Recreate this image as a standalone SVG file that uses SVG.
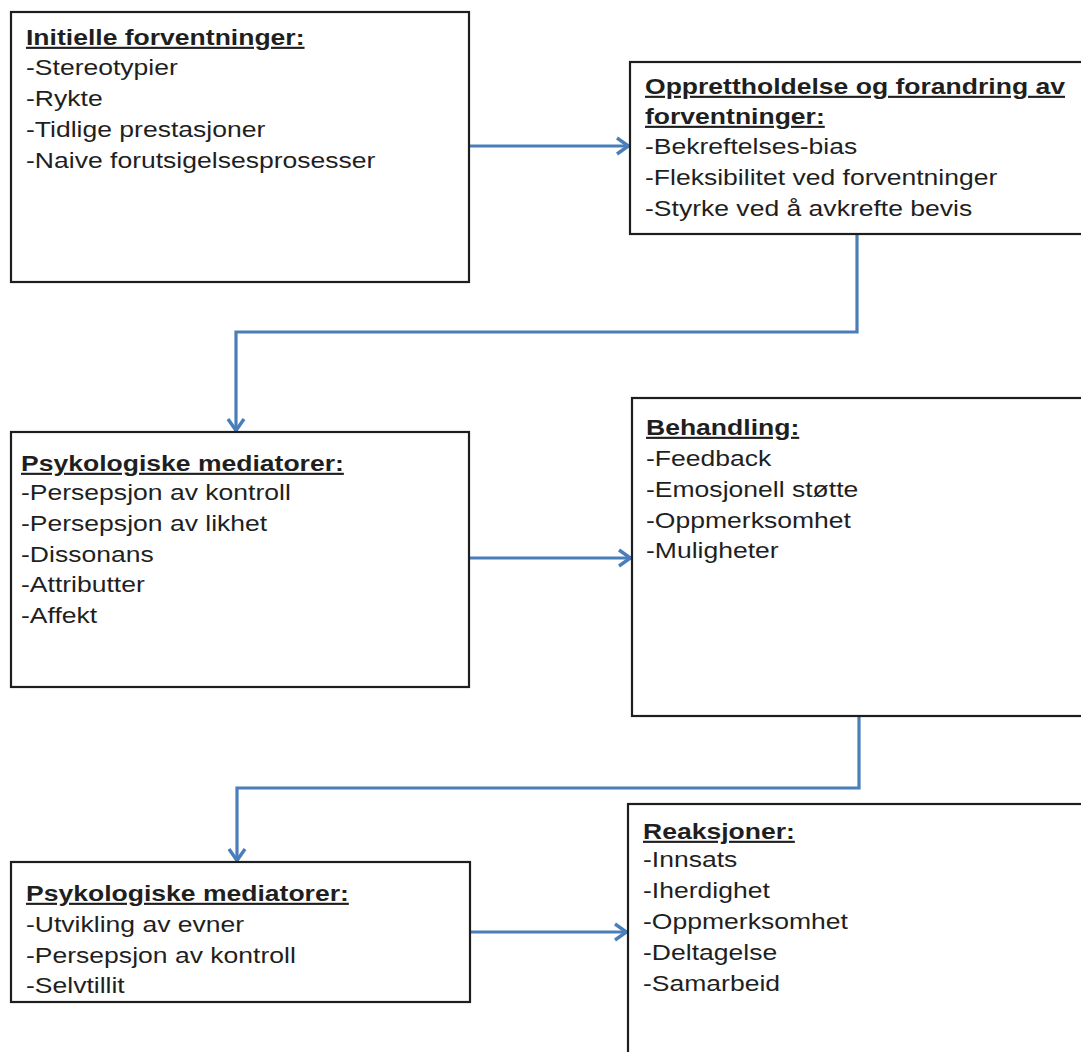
<svg xmlns="http://www.w3.org/2000/svg" width="1081" height="1052" viewBox="0 0 1081 1052">
  <style>
    .box { fill: #ffffff; stroke: #1e1e1e; stroke-width: 2.2; }
    .t { font-family: "Liberation Sans", Arial, sans-serif; font-size: 21.4px; fill: #1f1f1f; }
    .h { font-weight: bold; text-decoration: underline; }
    .edge { fill: none; stroke: #4a7ebb; stroke-width: 3.2; stroke-linejoin: miter; }
  </style>
  <defs>
    <marker id="arrow" viewBox="0 0 16 20" refX="14.5" refY="10" markerWidth="16" markerHeight="20" markerUnits="userSpaceOnUse" orient="auto">
      <path d="M2.5,2 L14,10 L2.5,18" fill="none" stroke="#4a7ebb" stroke-width="3.4" stroke-linejoin="miter"/>
    </marker>
  </defs>
  <rect width="1081" height="1052" fill="#ffffff"/>

  <!-- connectors -->
  <g id="connectors">
    <path class="edge" d="M469,146 H629" marker-end="url(#arrow)"/>
    <path class="edge" d="M857,234 V332 H236 V431" marker-end="url(#arrow)"/>
    <path class="edge" d="M469,558 H631" marker-end="url(#arrow)"/>
    <path class="edge" d="M859,717 V788 H237 V861" marker-end="url(#arrow)"/>
    <path class="edge" d="M470,932 H627" marker-end="url(#arrow)"/>
  </g>

  <!-- initial expectations -->
  <g id="node-initielle">
    <rect class="box" x="11" y="12" width="458" height="270"/>
    <g transform="translate(26 0) scale(1.24 1)">
      <text class="t h" x="0" y="45">Initielle forventninger:</text>
      <text class="t" x="0" y="75">-Stereotypier</text>
      <text class="t" x="0" y="106">-Rykte</text>
      <text class="t" x="0" y="137">-Tidlige prestasjoner</text>
      <text class="t" x="0" y="168">-Naive forutsigelsesprosesser</text>
    </g>
  </g>

  <!-- maintenance and change of expectations -->
  <g id="node-opprettholdelse">
    <rect class="box" x="630" y="62" width="460" height="172"/>
    <g transform="translate(645 0) scale(1.24 1)">
      <text class="t h" x="0" y="94">Opprettholdelse og forandring av</text>
      <text class="t h" x="0" y="124">forventninger:</text>
      <text class="t" x="0" y="154">-Bekreftelses-bias</text>
      <text class="t" x="0" y="185">-Fleksibilitet ved forventninger</text>
      <text class="t" x="0" y="216">-Styrke ved å avkrefte bevis</text>
    </g>
  </g>

  <!-- psychological mediators (first) -->
  <g id="node-mediatorer-1">
    <rect class="box" x="11" y="432" width="458" height="255"/>
    <g transform="translate(21 0) scale(1.24 1)">
      <text class="t h" x="0" y="471">Psykologiske mediatorer:</text>
      <text class="t" x="0" y="500">-Persepsjon av kontroll</text>
      <text class="t" x="0" y="531">-Persepsjon av likhet</text>
      <text class="t" x="0" y="562">-Dissonans</text>
      <text class="t" x="0" y="592">-Attributter</text>
      <text class="t" x="0" y="623">-Affekt</text>
    </g>
  </g>

  <!-- treatment -->
  <g id="node-behandling">
    <rect class="box" x="632" y="398" width="460" height="318"/>
    <g transform="translate(646 0) scale(1.24 1)">
      <text class="t h" x="0" y="435">Behandling:</text>
      <text class="t" x="0" y="466">-Feedback</text>
      <text class="t" x="0" y="497">-Emosjonell støtte</text>
      <text class="t" x="0" y="528">-Oppmerksomhet</text>
      <text class="t" x="0" y="558">-Muligheter</text>
    </g>
  </g>

  <!-- psychological mediators (second) -->
  <g id="node-mediatorer-2">
    <rect class="box" x="11" y="862" width="459" height="140"/>
    <g transform="translate(26 0) scale(1.24 1)">
      <text class="t h" x="0" y="901">Psykologiske mediatorer:</text>
      <text class="t" x="0" y="932">-Utvikling av evner</text>
      <text class="t" x="0" y="963">-Persepsjon av kontroll</text>
      <text class="t" x="0" y="993">-Selvtillit</text>
    </g>
  </g>

  <!-- reactions -->
  <g id="node-reaksjoner">
    <rect class="box" x="628" y="804" width="464" height="260"/>
    <g transform="translate(643 0) scale(1.24 1)">
      <text class="t h" x="0" y="839">Reaksjoner:</text>
      <text class="t" x="0" y="867">-Innsats</text>
      <text class="t" x="0" y="898">-Iherdighet</text>
      <text class="t" x="0" y="929">-Oppmerksomhet</text>
      <text class="t" x="0" y="960">-Deltagelse</text>
      <text class="t" x="0" y="991">-Samarbeid</text>
    </g>
  </g>
</svg>
